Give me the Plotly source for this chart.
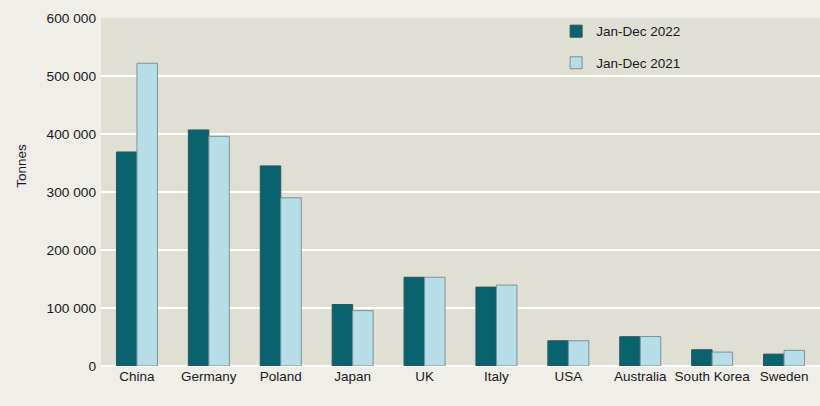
import plotly.graph_objects as go

categories = ["China", "Germany", "Poland", "Japan", "UK", "Italy", "USA",
              "Australia", "South Korea", "Sweden"]
values_2022 = [369000, 407000, 345000, 106000, 153000, 136000, 43500, 50500, 28000, 20500]
values_2021 = [522000, 396000, 290000, 95500, 153000, 139500, 43500, 50800, 24000, 27000]
y_ticks = [0, 100000, 200000, 300000, 400000, 500000, 600000]
y_tick_labels = ["0", "100 000", "200 000", "300 000", "400 000", "500 000", "600 000"]

FS = 13.5
fig = go.Figure()
fig.add_trace(go.Bar(
    x=categories, y=values_2022, name="Jan-Dec 2022", legendgroup="a",
    marker=dict(color="#08636f", line=dict(color="#2f5258", width=1)),
))
fig.add_trace(go.Bar(
    x=categories, y=values_2021, name="Jan-Dec 2021", legendgroup="b",
    marker=dict(color="#b7dde8", line=dict(color="#7e9296", width=1)),
))

fig.update_layout(
    width=820, height=406,
    margin=dict(l=101, r=0, t=18, b=40, autoexpand=False),
    paper_bgcolor="#efeee8",
    plot_bgcolor="#e0dfd4",
    font=dict(family="Liberation Sans, Arial, sans-serif", size=FS, color="#1a1a1a"),
    barmode="group",
    bargap=0.43,
    bargroupgap=0,
    showlegend=True,
    legend=dict(
        x=0.633, y=1.006, xanchor="left", yanchor="top",
        bgcolor="rgba(0,0,0,0)", traceorder="grouped", tracegroupgap=11,
        font=dict(size=FS, color="#1a1a1a"), itemwidth=30,
    ),
    xaxis=dict(showgrid=False, showline=False, ticks="", tickfont=dict(size=FS, color="#1a1a1a")),
    yaxis=dict(
        range=[0, 600000], tickmode="array", tickvals=y_ticks, ticktext=y_tick_labels,
        tickfont=dict(family="Liberation Sans", size=13.7, color="#1a1a1a"),
        showgrid=True, gridcolor="#ffffff", gridwidth=1.5,
        zeroline=True, zerolinecolor="#ffffff", zerolinewidth=2,
        showline=False, ticks="", ticklabelstandoff=4,
        automargin=False,
    ),
    annotations=[dict(
        text="Tonnes", textangle=-90, xref="paper", yref="paper",
        x=-0.11, y=0.575, xanchor="center", yanchor="middle",
        showarrow=False, font=dict(size=FS, color="#1a1a1a"),
    )],
)

fig.write_html("out.html")
